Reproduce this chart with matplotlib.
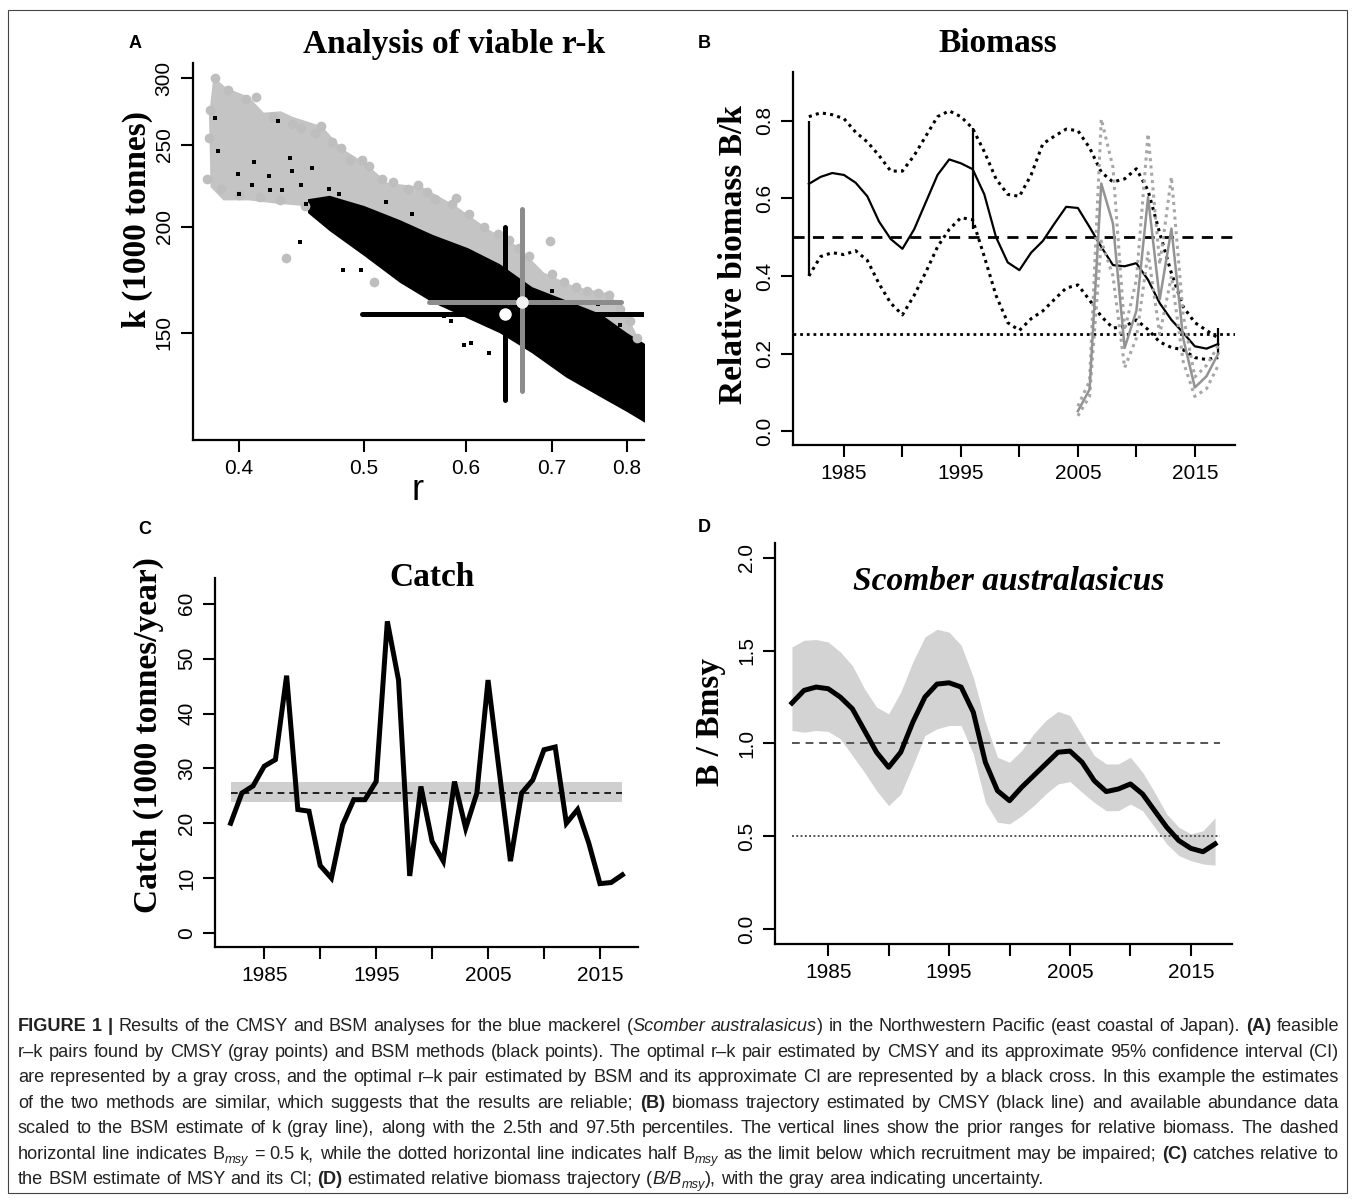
import re
import numpy as np
import matplotlib
matplotlib.use("Agg")
import matplotlib.pyplot as plt
from matplotlib.ticker import NullLocator
from matplotlib.patches import Rectangle

plt.rcParams['font.family'] = ['Liberation Sans', 'DejaVu Sans']

# ---------------- panel A : viable r-k pairs ----------------
# CMSY (gray) cloud outline, upper edge then lower edge
cmsy_poly_r = [0.380, 0.379, 0.382, 0.391, 0.407, 0.418, 0.431, 0.440, 0.464, 0.481, 0.501,
               0.522, 0.555, 0.590, 0.625, 0.658, 0.690, 0.729, 0.774, 0.799, 0.813,
               0.813, 0.690, 0.605, 0.530, 0.479, 0.451, 0.429, 0.407, 0.389, 0.380]
cmsy_poly_k = [225.5, 270.5, 301, 292, 285, 273, 274, 270, 263, 247.5, 238,
               225.5, 223, 211.5, 198.6, 189.9, 176.6, 170, 167, 158, 150,
               134.5, 151, 167, 189, 204, 211.6, 213, 215, 215, 223]
# individual CMSY points on the fringe
cmsy_r = [0.383, 0.392, 0.405, 0.412, 0.425, 0.440, 0.447, 0.458, 0.463, 0.472, 0.480, 0.488,
          0.498, 0.505, 0.516, 0.527, 0.541, 0.551, 0.560, 0.568, 0.585, 0.590, 0.603, 0.620,
          0.635, 0.648, 0.660, 0.672, 0.697, 0.700, 0.715, 0.730, 0.745, 0.760, 0.775, 0.790,
          0.805, 0.815, 0.435, 0.509, 0.378, 0.379, 0.380, 0.387, 0.400, 0.415, 0.430, 0.450]
cmsy_k = [300, 290, 283, 285, 270, 265, 262, 258, 263, 252, 248, 240,
          240, 236, 228, 226, 222, 224, 220, 216, 213, 216.5, 207, 200,
          196, 193, 189, 185, 192.5, 176, 172, 170, 168, 167, 166, 160,
          155, 148, 184, 172, 228, 255, 275, 222, 218, 217, 215, 212]
# BSM (black) dense band
bsm_band_r = [0.452, 0.470, 0.500, 0.533, 0.565, 0.602, 0.637, 0.675, 0.717, 0.763, 0.800, 0.830]
bsm_band_lo = [208, 198, 185, 172, 163, 156, 150, 142, 133, 126, 121, 117]
bsm_band_hi = [216, 218, 212, 204, 196, 189, 181, 170, 164, 158, 150, 145]
# scattered BSM points
bsm_r = [0.383, 0.385, 0.399, 0.400, 0.411, 0.409, 0.422, 0.423, 0.429, 0.432, 0.438, 0.440,
         0.447, 0.451, 0.456, 0.446, 0.482, 0.497, 0.598, 0.606, 0.625, 0.803, 0.577, 0.584,
         0.470, 0.478, 0.520, 0.545, 0.700, 0.760, 0.790]
bsm_k = [269, 246, 231, 219, 239, 224, 230, 221, 267, 221, 241, 233,
         224, 213, 235, 192, 178, 178, 145, 146, 142, 145, 157, 155,
         222, 219, 214, 207, 168, 162, 153]
# best estimates and approximate CI (crosses)
cmsy_best = (0.663, 163.0)
cmsy_r_ci = (0.562, 0.792)
cmsy_k_ci = (128, 210)
bsm_best = (0.644, 158.0)
bsm_r_ci = (0.498, 0.84)
bsm_k_ci = (125, 200)

# ---------------- panel B : biomass ----------------
years = np.arange(1982, 2018)
bk_mid = [0.637, 0.655, 0.665, 0.660, 0.640, 0.605, 0.540, 0.495, 0.470, 0.520, 0.590, 0.660,
          0.700, 0.690, 0.675, 0.610, 0.500, 0.435, 0.415, 0.460, 0.490, 0.535, 0.578, 0.575,
          0.526, 0.475, 0.428, 0.425, 0.433, 0.390, 0.330, 0.287, 0.254, 0.219, 0.213, 0.225]
bk_hi = [0.810, 0.820, 0.815, 0.805, 0.770, 0.745, 0.710, 0.670, 0.670, 0.710, 0.760, 0.810,
         0.825, 0.810, 0.780, 0.720, 0.650, 0.610, 0.605, 0.660, 0.740, 0.760, 0.778, 0.774,
         0.730, 0.667, 0.642, 0.650, 0.676, 0.620, 0.510, 0.407, 0.321, 0.280, 0.260, 0.240]
bk_lo = [0.400, 0.450, 0.460, 0.455, 0.465, 0.440, 0.380, 0.330, 0.300, 0.350, 0.410, 0.475,
         0.520, 0.550, 0.545, 0.450, 0.350, 0.280, 0.260, 0.290, 0.310, 0.340, 0.369, 0.377,
         0.338, 0.296, 0.266, 0.270, 0.287, 0.262, 0.230, 0.216, 0.210, 0.190, 0.185, 0.190]
idx_years = np.arange(2005, 2018)
idx_mid = [0.052, 0.108, 0.638, 0.535, 0.215, 0.310, 0.603, 0.340, 0.522, 0.240, 0.113, 0.142, 0.200]
idx_hi = [0.065, 0.130, 0.804, 0.680, 0.260, 0.390, 0.766, 0.430, 0.655, 0.300, 0.140, 0.170, 0.220]
idx_lo = [0.040, 0.090, 0.490, 0.400, 0.164, 0.240, 0.460, 0.250, 0.400, 0.180, 0.090, 0.110, 0.170]
prior_years = [1982, 1996, 2017]
prior_lo = [0.40, 0.52, 0.20]
prior_hi = [0.80, 0.78, 0.265]

# ---------------- panel C : catch ----------------
catch = [20.0, 25.5, 26.8, 30.4, 31.6, 46.9, 22.5, 22.2, 12.3, 10.0, 19.7, 24.3,
         24.3, 27.6, 56.8, 46.1, 10.4, 26.7, 16.7, 13.1, 27.6, 19.1, 25.5, 46.1,
         29.5, 13.1, 25.5, 27.9, 33.4, 33.9, 20.0, 22.5, 16.4, 9.0, 9.2, 10.6]
msy, msy_lo, msy_hi = 25.6, 23.9, 27.6

# ---------------- panel D : B/Bmsy ----------------
bb_mid = [1.218, 1.286, 1.304, 1.295, 1.250, 1.187, 1.070, 0.953, 0.872, 0.953, 1.115, 1.250,
          1.320, 1.327, 1.304, 1.169, 0.899, 0.746, 0.692, 0.764, 0.827, 0.890, 0.953, 0.959,
          0.899, 0.800, 0.741, 0.755, 0.782, 0.728, 0.638, 0.549, 0.477, 0.435, 0.417, 0.459]
bb_hi = [1.520, 1.556, 1.560, 1.547, 1.493, 1.420, 1.295, 1.196, 1.160, 1.277, 1.439, 1.574,
         1.615, 1.600, 1.529, 1.358, 1.115, 0.926, 0.899, 0.962, 1.052, 1.124, 1.173, 1.151,
         1.043, 0.935, 0.890, 0.890, 0.926, 0.845, 0.737, 0.620, 0.549, 0.513, 0.530, 0.600]
bb_lo = [1.070, 1.061, 1.070, 1.065, 1.025, 0.935, 0.845, 0.746, 0.665, 0.728, 0.881, 1.043,
         1.079, 1.097, 1.097, 0.944, 0.683, 0.576, 0.567, 0.611, 0.665, 0.728, 0.782, 0.795,
         0.737, 0.683, 0.638, 0.638, 0.674, 0.638, 0.549, 0.459, 0.396, 0.369, 0.351, 0.345]

caption = [
    "**FIGURE 1 |** Results of the CMSY and BSM analyses for the blue mackerel (*Scomber australasicus*) in the Northwestern Pacific (east coastal of Japan). **(A)** feasible",
    "r\u2013k pairs found by CMSY (gray points) and BSM methods (black points). The optimal r\u2013k pair estimated by CMSY and its approximate 95% confidence interval (CI)",
    "are represented by a gray cross, and the optimal r\u2013k pair estimated by BSM and its approximate CI are represented by a black cross. In this example the estimates",
    "of the two methods are similar, which suggests that the results are reliable; **(B)** biomass trajectory estimated by CMSY (black line) and available abundance data",
    "scaled to the BSM estimate of k (gray line), along with the 2.5th and 97.5th percentiles. The vertical lines show the prior ranges for relative biomass. The dashed",
    "horizontal line indicates B_{msy} = 0.5 k, while the dotted horizontal line indicates half B_{msy} as the limit below which recruitment may be impaired; **(C)** catches relative to",
    "the BSM estimate of MSY and its CI; **(D)** estimated relative biomass trajectory (*B/B*_{msy}), with the gray area indicating uncertainty.",
]

W, H = 1355, 1199
fig = plt.figure(figsize=(W / 100, H / 100), dpi=100)


def box(l, t, r, b):
    return [l / W, 1 - b / H, (r - l) / W, (b - t) / H]


def style(ax):
    for s in ('top', 'right'):
        ax.spines[s].set_visible(False)
    for s in ('left', 'bottom'):
        ax.spines[s].set_linewidth(1.6)
    ax.tick_params(direction='out', length=8.5, width=1.5, labelsize=15, pad=5)
    ax.xaxis.set_minor_locator(NullLocator())
    ax.yaxis.set_minor_locator(NullLocator())
    for lab in ax.get_yticklabels():
        lab.set_rotation(90)
        lab.set_va('center')


def ftext(x, y, s, **kw):
    return fig.text(x / W, 1 - y / H, s, **kw)


serif_b = dict(family='Liberation Serif', weight='bold', fontsize=24)

# ----- A -----
axA = fig.add_axes(box(192.5, 63, 644, 440))
axA.set_xscale('log')
axA.set_yscale('log')
axA.fill(cmsy_poly_r, cmsy_poly_k, color='#c4c4c4', lw=0)
axA.plot(cmsy_r, cmsy_k, 'o', color='#bebebe', ms=7, mew=0)
axA.fill_between(bsm_band_r, bsm_band_lo, bsm_band_hi, color='black', lw=0)
axA.plot(bsm_r, bsm_k, 's', color='black', ms=2.3, mew=0)
axA.plot(bsm_r_ci, [bsm_best[1]] * 2, color='black', lw=3.6, solid_capstyle='round')
axA.plot([bsm_best[0]] * 2, bsm_k_ci, color='black', lw=3.6, solid_capstyle='round')
axA.plot(cmsy_r_ci, [cmsy_best[1]] * 2, color='#8c8c8c', lw=3.6, solid_capstyle='round')
axA.plot([cmsy_best[0]] * 2, cmsy_k_ci, color='#8c8c8c', lw=3.6, solid_capstyle='round')
axA.plot(*bsm_best, 'o', color='white', ms=9, mew=0)
axA.plot(*cmsy_best, 'o', color='#f2f2f2', ms=9, mew=0)
axA.set_xlim(0.368, 0.825)
axA.set_ylim(112, 312.5)
axA.set_xticks([0.4, 0.5, 0.6, 0.7, 0.8], labels=['0.4', '0.5', '0.6', '0.7', '0.8'])
axA.set_yticks([150, 200, 250, 300], labels=['150', '200', '250', '300'])
style(axA)

# ----- B -----
axB = fig.add_axes(box(792.5, 72, 1234.6, 445))
dot = (0, (1, 1.4))
axB.axhline(0.5, color='black', lw=2, ls=(0, (4, 3)))
axB.axhline(0.25, color='black', lw=2, ls=dot)
axB.plot(years, bk_hi, color='black', lw=2.2, ls=dot)
axB.plot(years, bk_lo, color='black', lw=2.2, ls=dot)
axB.plot(years, bk_mid, color='black', lw=1.6)
axB.vlines(prior_years, prior_lo, prior_hi, color='black', lw=1.6)
axB.plot(idx_years, idx_hi, color='#a6a6a6', lw=2.2, ls=dot)
axB.plot(idx_years, idx_lo, color='#a6a6a6', lw=2.2, ls=dot)
axB.plot(idx_years, idx_mid, color='#939393', lw=1.8)
axB.set_xlim(1980.6, 2018.4)
axB.set_ylim(-0.035, 0.925)
axB.set_xticks(range(1985, 2016, 5), labels=['1985', '', '1995', '', '2005', '', '2015'])
axB.set_yticks([0, 0.2, 0.4, 0.6, 0.8], labels=['0.0', '0.2', '0.4', '0.6', '0.8'])
style(axB)

# ----- C -----
axC = fig.add_axes(box(215, 578, 638, 947))
axC.fill_between([years[0], years[-1]], msy_lo, msy_hi, color='#cfcfcf', lw=0)
axC.plot([years[0], years[-1]], [msy, msy], color='black', lw=1.2, ls=(0, (4, 3)))
axC.plot(years, catch, color='black', lw=3.6, solid_joinstyle='miter')
axC.set_xlim(1980.6, 2018.4)
axC.set_ylim(-2.55, 64.7)
axC.set_xticks(range(1985, 2016, 5), labels=['1985', '', '1995', '', '2005', '', '2015'])
axC.set_yticks(range(0, 61, 10), labels=[str(v) for v in range(0, 61, 10)])
style(axC)

# ----- D -----
axD = fig.add_axes(box(775, 543, 1232, 944))
axD.fill_between(years, bb_lo, bb_hi, color='#d3d3d3', lw=0)
axD.plot([years[0], years[-1] + 0.4], [1, 1], color='#555555', lw=1.4, ls=(0, (4, 3)))
axD.plot([years[0], years[-1] + 0.4], [0.5, 0.5], color='#555555', lw=1.4, ls=(0, (1, 1.2)))
axD.plot(years, bb_mid, color='black', lw=3.6)
axD.set_xlim(1980.6, 2018.4)
axD.set_ylim(-0.08, 2.08)
axD.set_xticks(range(1985, 2016, 5), labels=['1985', '', '1995', '', '2005', '', '2015'])
axD.set_yticks([0, 0.5, 1, 1.5, 2], labels=['0.0', '0.5', '1.0', '1.5', '2.0'])
style(axD)

# ----- titles, labels, panel letters -----
ftext(454, 45, 'Analysis of viable r-k', ha='center', va='center', **serif_b)
ftext(998, 43, 'Biomass', ha='center', va='center', **serif_b)
ftext(432, 578, 'Catch', ha='center', va='center', **serif_b)
ftext(1009, 582, 'Scomber australasicus', ha='center', va='center', style='italic', **serif_b)
ftext(137, 220, 'k (1000 tonnes)', ha='center', va='center', rotation=90, **serif_b)
ftext(733, 254, 'Relative biomass B/k', ha='center', va='center', rotation=90, **serif_b)
ftext(148, 735, 'Catch (1000 tonnes/year)', ha='center', va='center', rotation=90, **serif_b)
ftext(711, 722, 'B / Bmsy', ha='center', va='center', rotation=90, **serif_b)
ftext(418, 490, 'r', ha='center', va='center', fontsize=26)
for letter, x, y in [('A', 135, 43), ('B', 704, 43), ('C', 145, 530), ('D', 704, 528)]:
    ftext(x, y, letter, ha='center', va='center', fontsize=13, weight='bold')

# ----- caption (justified) -----
fig.add_artist(Rectangle((8 / W, 1 - 1193 / H), 1339 / W, 1183 / H, transform=fig.transFigure,
                         fill=False, ec='#444444', lw=0.8))
renderer = fig.canvas.get_renderer()
cap_left, cap_right = 18, 1339
line_y = [1031, 1057, 1082, 1108, 1133, 1159, 1184]


def parse(line):
    runs = []
    for piece in re.split(r'(\*\*[^*]+\*\*|\*[^*]+\*|_\{[^}]+\})', line):
        if not piece:
            continue
        if piece.startswith('**'):
            runs.append((piece[2:-2], 'b'))
        elif piece.startswith('*'):
            runs.append((piece[1:-1], 'i'))
        elif piece.startswith('_{'):
            runs.append((piece[2:-1], 's'))
        else:
            runs.append((piece, 'n'))
    words = [[]]
    for txt, st in runs:
        parts = txt.split(' ')
        for j, p in enumerate(parts):
            if j > 0:
                words.append([])
            if p:
                words[-1].append((p, st))
    return [w for w in words if w]


def make_words(words, size, base):
    items = []
    for w in words:
        parts = []
        for txt, st in w:
            kw = dict(fontsize=size, color='#222222', va='baseline')
            y = base
            if st == 'b':
                kw['weight'] = 'bold'
            elif st == 'i':
                kw['style'] = 'italic'
            elif st == 's':
                kw['style'] = 'italic'
                kw['fontsize'] = size * 0.7
                y = base - 4 / H
            t = fig.text(0, y, txt, **kw)
            parts.append((t, t.get_window_extent(renderer=renderer).width))
        items.append(parts)
    return items


parsed = [parse(line) for line in caption]

# pick a font size so the longest full line fills the caption width
probe = 12.0
natural = []
for words in parsed[:-1]:
    items = make_words(words, probe, 0.0)
    natural.append(sum(w for parts in items for _, w in parts)
                   + (len(items) - 1) * probe * 100 / 72 * 0.278)
    for parts in items:
        for t, _ in parts:
            t.remove()
cap_size = probe * (cap_right - cap_left) / max(natural) * 0.995

for li, words in enumerate(parsed):
    items = make_words(words, cap_size, 1 - line_y[li] / H)
    widths = [sum(p[1] for p in parts) for parts in items]
    space = cap_size * 100 / 72 * 0.278
    if li < len(parsed) - 1 and len(items) > 1:
        space = (cap_right - cap_left - sum(widths)) / (len(items) - 1)
    x = cap_left
    for parts, wsum in zip(items, widths):
        xx = x
        for t, w in parts:
            t.set_x(xx / W)
            xx += w
        x += wsum + space

fig.savefig('out.png', dpi=100)
